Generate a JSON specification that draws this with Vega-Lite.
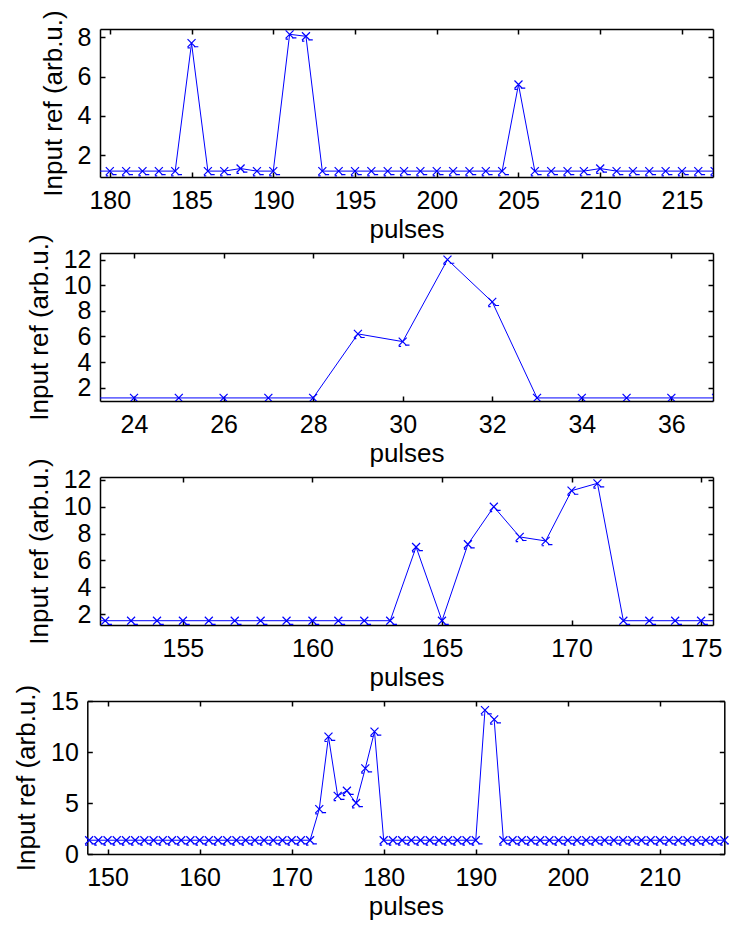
{
  "$schema": "https://vega.github.io/schema/vega-lite/v6.json",
  "background": "white",
  "padding": {"left": 13, "top": 9, "right": 5, "bottom": 5},
  "bounds": "flush",
  "spacing": 76,
  "config": {
    "view": {"stroke": null},
    "font": "Liberation Sans",
    "axis": {
      "domainColor": "black", "domainWidth": 1.5,
      "tickColor": "black", "tickWidth": 1.5, "tickSize": -5,
      "labelFont": "Liberation Sans", "labelFontSize": 25, "labelColor": "black",
      "labelPadding": 16, "labelFlush": false, "labelOverlap": false, "labelBound": false,
      "titleFont": "Liberation Sans", "titleFontSize": 26, "titleFontWeight": "normal", "titleColor": "black",
      "grid": false
    },
    "axisY": {"labelPadding": 14, "titlePadding": 11},
    "axisX": {"titlePadding": 3}
  },
  "datasets": {
    "p1": [
      {"x":179,"y":1.2},{"x":180,"y":1.2},{"x":181,"y":1.2},{"x":182,"y":1.2},{"x":183,"y":1.2},{"x":184,"y":1.2},
      {"x":185,"y":7.7},{"x":186,"y":1.2},{"x":187,"y":1.2},{"x":188,"y":1.33},{"x":189,"y":1.2},{"x":190,"y":1.2},
      {"x":191,"y":8.15},{"x":192,"y":8.05},{"x":193,"y":1.2},{"x":194,"y":1.2},{"x":195,"y":1.2},{"x":196,"y":1.2},
      {"x":197,"y":1.2},{"x":198,"y":1.2},{"x":199,"y":1.2},{"x":200,"y":1.2},{"x":201,"y":1.2},{"x":202,"y":1.2},
      {"x":203,"y":1.2},{"x":204,"y":1.2},{"x":205,"y":5.6},{"x":206,"y":1.2},{"x":207,"y":1.2},{"x":208,"y":1.2},
      {"x":209,"y":1.2},{"x":210,"y":1.33},{"x":211,"y":1.2},{"x":212,"y":1.2},{"x":213,"y":1.2},{"x":214,"y":1.2},
      {"x":215,"y":1.2},{"x":216,"y":1.2},{"x":217,"y":1.2}
    ],
    "p2": [
      {"x":23,"y":1.2},{"x":24,"y":1.2},{"x":25,"y":1.2},{"x":26,"y":1.2},{"x":27,"y":1.2},{"x":28,"y":1.2},
      {"x":29,"y":6.2},{"x":30,"y":5.6},{"x":31,"y":12.0},{"x":32,"y":8.7},{"x":33,"y":1.2},{"x":34,"y":1.2},
      {"x":35,"y":1.2},{"x":36,"y":1.2},{"x":37,"y":1.2}
    ],
    "p3": [
      {"x":151,"y":1.5},{"x":152,"y":1.5},{"x":153,"y":1.5},{"x":154,"y":1.5},{"x":155,"y":1.5},{"x":156,"y":1.5},
      {"x":157,"y":1.5},{"x":158,"y":1.5},{"x":159,"y":1.5},{"x":160,"y":1.5},{"x":161,"y":1.5},{"x":162,"y":1.5},
      {"x":163,"y":1.5},{"x":164,"y":7.0},{"x":165,"y":1.5},{"x":166,"y":7.2},{"x":167,"y":10.0},{"x":168,"y":7.75},
      {"x":169,"y":7.45},{"x":170,"y":11.2},{"x":171,"y":11.75},{"x":172,"y":1.5},{"x":173,"y":1.5},{"x":174,"y":1.5},
      {"x":175,"y":1.5},{"x":176,"y":1.5}
    ],
    "p4": [
      {"x":148,"y":1.35},{"x":149,"y":1.35},{"x":150,"y":1.35},{"x":151,"y":1.35},{"x":152,"y":1.35},{"x":153,"y":1.35},
      {"x":154,"y":1.35},{"x":155,"y":1.35},{"x":156,"y":1.35},{"x":157,"y":1.35},{"x":158,"y":1.35},{"x":159,"y":1.35},
      {"x":160,"y":1.35},{"x":161,"y":1.35},{"x":162,"y":1.35},{"x":163,"y":1.35},{"x":164,"y":1.35},{"x":165,"y":1.35},
      {"x":166,"y":1.35},{"x":167,"y":1.35},{"x":168,"y":1.35},{"x":169,"y":1.35},{"x":170,"y":1.35},{"x":171,"y":1.35},
      {"x":172,"y":1.35},{"x":173,"y":4.4},{"x":174,"y":11.5},{"x":175,"y":5.7},{"x":176,"y":6.2},{"x":177,"y":5.0},
      {"x":178,"y":8.4},{"x":179,"y":12.0},{"x":180,"y":1.35},{"x":181,"y":1.35},{"x":182,"y":1.35},{"x":183,"y":1.35},
      {"x":184,"y":1.35},{"x":185,"y":1.35},{"x":186,"y":1.35},{"x":187,"y":1.35},{"x":188,"y":1.35},{"x":189,"y":1.35},
      {"x":190,"y":1.35},{"x":191,"y":14.1},{"x":192,"y":13.2},{"x":193,"y":1.35},{"x":194,"y":1.35},{"x":195,"y":1.35},
      {"x":196,"y":1.35},{"x":197,"y":1.35},{"x":198,"y":1.35},{"x":199,"y":1.35},{"x":200,"y":1.35},{"x":201,"y":1.35},
      {"x":202,"y":1.35},{"x":203,"y":1.35},{"x":204,"y":1.35},{"x":205,"y":1.35},{"x":206,"y":1.35},{"x":207,"y":1.35},
      {"x":208,"y":1.35},{"x":209,"y":1.35},{"x":210,"y":1.35},{"x":211,"y":1.35},{"x":212,"y":1.35},{"x":213,"y":1.35},
      {"x":214,"y":1.35},{"x":215,"y":1.35},{"x":216,"y":1.35},{"x":217,"y":1.35}
    ]
  },
  "vconcat": [
    {
      "width": 613, "height": 148,
      "data": {"name": "p1"},
      "layer": [
        {
          "mark": {"type": "line", "color": "#0000ff", "strokeWidth": 1, "clip": true},
          "encoding": {
            "x": {"field": "x", "type": "quantitative", "scale": {"domain": [179.4, 216.9], "nice": false, "zero": false},
                  "axis": {"orient": "bottom", "title": "pulses", "values": [180,185,190,195,200,205,210,215]}},
            "y": {"field": "y", "type": "quantitative", "scale": {"domain": [0.9, 8.42], "nice": false, "zero": false},
                  "axis": {"orient": "left", "title": "Input ref (arb.u.)", "values": [2,4,6,8]}}
          }
        },
        {
          "mark": {"type": "point", "shape": "M-1,-1L1,1M-1,1L1,-1M0.6,0.9L1.7,0.9M-1,1.2L-0.4,1.2", "size": 64, "color": "#0000ff", "filled": false, "strokeWidth": 1.2, "opacity": 1, "clip": true},
          "encoding": {
            "x": {"field": "x", "type": "quantitative", "axis": {"orient": "top", "title": null, "labels": false, "values": [180,185,190,195,200,205,210,215]}},
            "y": {"field": "y", "type": "quantitative", "axis": {"orient": "right", "title": null, "labels": false, "values": [2,4,6,8]}}
          }
        }
      ],
      "resolve": {"axis": {"x": "independent", "y": "independent"}}
    },
    {
      "width": 613, "height": 148,
      "data": {"name": "p2"},
      "layer": [
        {
          "mark": {"type": "line", "color": "#0000ff", "strokeWidth": 1, "clip": true},
          "encoding": {
            "x": {"field": "x", "type": "quantitative", "scale": {"domain": [23.24, 36.93], "nice": false, "zero": false},
                  "axis": {"orient": "bottom", "title": "pulses", "values": [24,26,28,30,32,34,36]}},
            "y": {"field": "y", "type": "quantitative", "scale": {"domain": [0.96, 12.52], "nice": false, "zero": false},
                  "axis": {"orient": "left", "title": "Input ref (arb.u.)", "values": [2,4,6,8,10,12]}}
          }
        },
        {
          "mark": {"type": "point", "shape": "M-1,-1L1,1M-1,1L1,-1M0.6,0.9L1.7,0.9M-1,1.2L-0.4,1.2", "size": 64, "color": "#0000ff", "filled": false, "strokeWidth": 1.2, "opacity": 1, "clip": true},
          "encoding": {
            "x": {"field": "x", "type": "quantitative", "axis": {"orient": "top", "title": null, "labels": false, "values": [24,26,28,30,32,34,36]}},
            "y": {"field": "y", "type": "quantitative", "axis": {"orient": "right", "title": null, "labels": false, "values": [2,4,6,8,10,12]}}
          }
        }
      ],
      "resolve": {"axis": {"x": "independent", "y": "independent"}}
    },
    {
      "width": 613, "height": 148,
      "data": {"name": "p3"},
      "layer": [
        {
          "mark": {"type": "line", "color": "#0000ff", "strokeWidth": 1, "clip": true},
          "encoding": {
            "x": {"field": "x", "type": "quantitative", "scale": {"domain": [151.8, 175.46], "nice": false, "zero": false},
                  "axis": {"orient": "bottom", "title": "pulses", "values": [155,160,165,170,175]}},
            "y": {"field": "y", "type": "quantitative", "scale": {"domain": [1.18, 12.22], "nice": false, "zero": false},
                  "axis": {"orient": "left", "title": "Input ref (arb.u.)", "values": [2,4,6,8,10,12]}}
          }
        },
        {
          "mark": {"type": "point", "shape": "M-1,-1L1,1M-1,1L1,-1M0.6,0.9L1.7,0.9M-1,1.2L-0.4,1.2", "size": 64, "color": "#0000ff", "filled": false, "strokeWidth": 1.2, "opacity": 1, "clip": true},
          "encoding": {
            "x": {"field": "x", "type": "quantitative", "axis": {"orient": "top", "title": null, "labels": false, "values": [155,160,165,170,175]}},
            "y": {"field": "y", "type": "quantitative", "axis": {"orient": "right", "title": null, "labels": false, "values": [2,4,6,8,10,12]}}
          }
        }
      ],
      "resolve": {"axis": {"x": "independent", "y": "independent"}}
    },
    {
      "width": 613, "height": 153,
      "data": {"name": "p4"},
      "layer": [
        {
          "mark": {"type": "line", "color": "#0000ff", "strokeWidth": 1},
          "encoding": {
            "x": {"field": "x", "type": "quantitative", "scale": {"domain": [147.8, 217], "range": [-12.7, 624.3], "nice": false, "zero": false},
                  "axis": {"orient": "bottom", "title": "pulses", "values": [150,160,170,180,190,200,210]}},
            "y": {"field": "y", "type": "quantitative", "scale": {"domain": [0, 15], "nice": false, "zero": false},
                  "axis": {"orient": "left", "title": "Input ref (arb.u.)", "values": [0,5,10,15], "offset": 12.7}}
          }
        },
        {
          "mark": {"type": "point", "shape": "M-1,-1L1,1M-1,1L1,-1M0.6,0.9L1.7,0.9M-1,1.2L-0.4,1.2", "size": 64, "color": "#0000ff", "filled": false, "strokeWidth": 1.2, "opacity": 1},
          "encoding": {
            "x": {"field": "x", "type": "quantitative", "axis": {"orient": "top", "title": null, "labels": false, "values": [150,160,170,180,190,200,210]}},
            "y": {"field": "y", "type": "quantitative", "axis": {"orient": "right", "title": null, "labels": false, "values": [0,5,10,15], "offset": 11.3}}
          }
        }
      ],
      "resolve": {"axis": {"x": "independent", "y": "independent"}}
    }
  ]
}
